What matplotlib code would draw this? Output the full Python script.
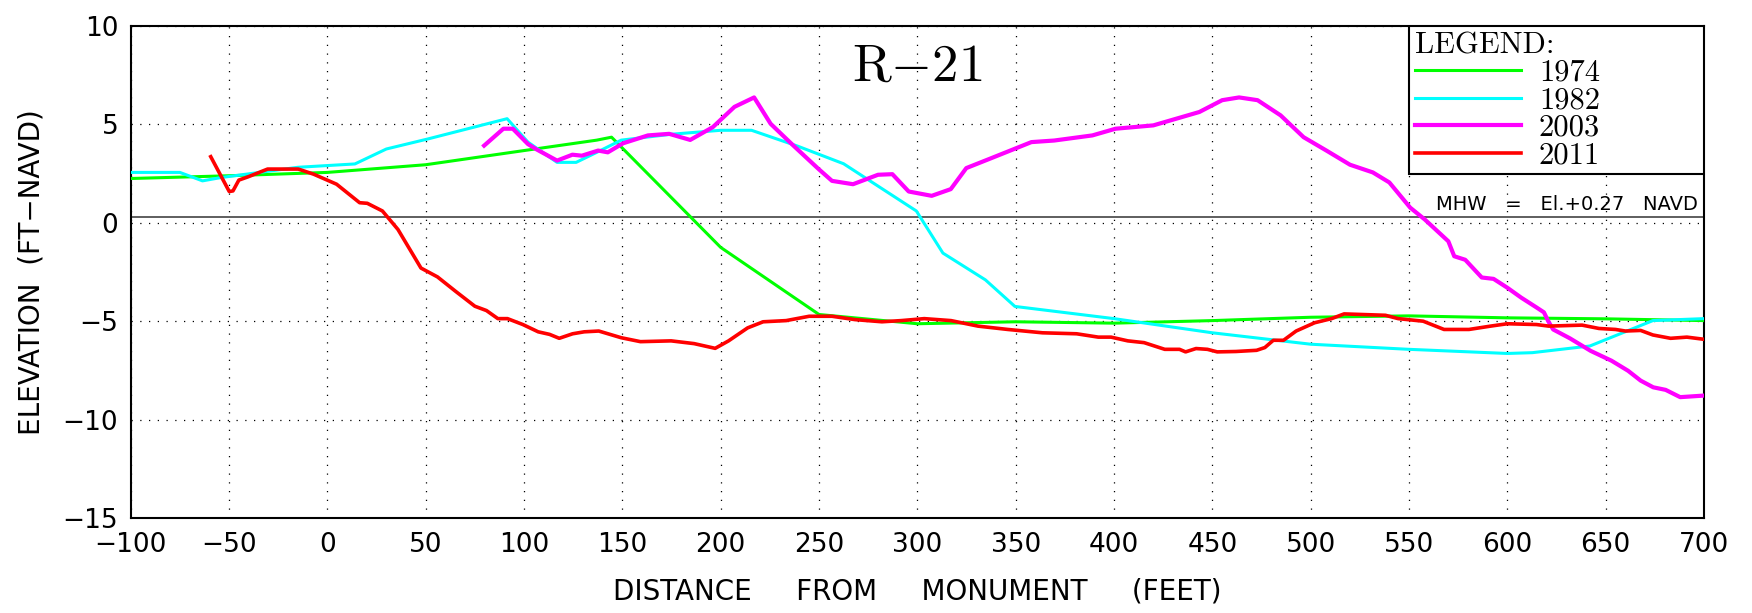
import matplotlib
matplotlib.use("Agg")
import matplotlib.pyplot as plt
from matplotlib.patches import Rectangle

# Beach profile R-21, distance from monument (ft) vs elevation (ft-NAVD)
x1974 = [-100, -50, 0, 50, 100, 137, 144.5, 200, 250, 300, 350, 400, 450, 500, 550, 600, 650, 700]
y1974 = [2.25, 2.39, 2.56, 2.95, 3.67, 4.2, 4.35, -1.25, -4.66, -5.13, -5.03, -5.1, -4.97, -4.8,
         -4.73, -4.83, -4.88, -4.97]

x1982 = [-100, -75, -63.5, -54, -15, 14, 30, 51.5, 91.4, 102, 116.8, 126.5, 137, 149.4, 175, 200,
         215.7, 239, 262.5, 299.5, 313, 334.6, 349.6, 400, 450, 500, 550, 600, 612.7, 642, 674, 700]
y1982 = [2.56, 2.56, 2.13, 2.3, 2.82, 2.99, 3.75, 4.27, 5.29, 4.1, 3.07, 3.07, 3.58, 4.2, 4.5, 4.7,
         4.7, 3.9, 3.0, 0.6, -1.54, -2.9, -4.25, -4.87, -5.59, -6.17, -6.43, -6.64, -6.6, -6.26,
         -4.97, -4.87]

x2003 = [79.7, 89.5, 94.3, 102, 106, 116.8, 124.6, 129.4, 137.7, 142.6, 150.4, 163, 173.8, 184.5,
         196, 207, 217, 225.4, 237, 249.8, 256.6, 267.3, 280, 287.3, 295.6, 307.3, 317, 324.9,
         336.5, 358, 369.6, 389, 400.8, 420, 431.7, 443.4, 455, 463.6, 473, 484.7, 496.4, 508,
         520, 531.6, 540, 550.6, 558, 570, 573, 578.6, 587, 593, 600, 607, 614.8, 618.6, 620.8,
         623.3, 631.8, 642.4, 653, 661.4, 667.8, 674.2, 680.5, 687.9, 700]
y2003 = [3.92, 4.78, 4.78, 4.0, 3.75, 3.16, 3.46, 3.41, 3.67, 3.58, 4.04, 4.44, 4.52, 4.21,
         4.86, 5.89, 6.37, 5.03, 3.92, 2.73, 2.13, 1.96, 2.44, 2.47, 1.59, 1.37, 1.71, 2.78,
         3.24, 4.1, 4.18, 4.44, 4.78, 4.95, 5.29, 5.63, 6.23, 6.37, 6.23, 5.46, 4.35, 3.67,
         2.95, 2.56, 2.05, 0.77, 0.17, -0.94, -1.7, -1.88, -2.78, -2.85, -3.3, -3.8, -4.3, -4.55,
         -5.0, -5.42, -5.87, -6.51, -7.01, -7.52, -8.02, -8.36, -8.49, -8.86, -8.78]

x2011 = [-59.3, -49.9, -48, -45, -40.2, -30.4, -14.8, -7, 4.7, 16.4, 20.3, 28, 35.9, 47.6, 56,
         65.3, 75, 80.9, 86.7, 91.6, 99.4, 107.2, 113, 117.9, 124.7, 130.6, 138, 149.4, 159.2,
         174.8, 186.5, 197.2, 204, 213.7, 221.6, 233.3, 245, 256.6, 268.3, 282, 291.8, 303.5,
         317.1, 330.8, 346, 363.6, 381, 392, 398.5, 407, 415.3, 425.8, 433.3, 436.4, 441.7,
         447.5, 452.5, 462, 472.5, 476.7, 481, 486.2, 492.6, 502, 510.6, 517, 538, 544.5,
         557.2, 567.8, 580.5, 591.5, 600, 614.8, 621, 638, 646.6, 655, 660, 667.8, 674, 683,
         691.3, 700]
y2011 = [3.36, 1.59, 1.62, 2.17, 2.34, 2.73, 2.73, 2.47, 1.96, 1.02, 0.99, 0.6, -0.34, -2.3, -2.75,
         -3.49, -4.24, -4.46, -4.87, -4.87, -5.17, -5.54, -5.67, -5.87, -5.64, -5.54, -5.5,
         -5.84, -6.04, -6.0, -6.14, -6.38, -6.0, -5.34, -5.03, -4.97, -4.75, -4.75, -4.92,
         -5.03, -4.97, -4.87, -4.97, -5.25, -5.42, -5.59, -5.64, -5.81, -5.81, -6.0, -6.09,
         -6.43, -6.43, -6.56, -6.39, -6.43, -6.56, -6.54, -6.48, -6.34, -5.97, -5.97, -5.5,
         -5.08, -4.87, -4.63, -4.7, -4.87, -5.0, -5.42, -5.42, -5.25, -5.13, -5.17, -5.25,
         -5.2, -5.37, -5.42, -5.5, -5.47, -5.7, -5.87, -5.81, -5.92]

years = ["1974", "1982", "2003", "2011"]
colors = ["#00ff00", "#00ffff", "#ff00ff", "#ff0000"]
widths = [2.2, 2.2, 3.0, 2.6]
profiles = [(x1974, y1974), (x1982, y1982), (x2003, y2003), (x2011, y2011)]

mhw = 0.27
xticks = list(range(-100, 701, 50))
yticks = list(range(-15, 11, 5))

plt.rcParams["mathtext.fontset"] = "cm"

fig = plt.figure(figsize=(17.52, 6.13), dpi=100)
ax = fig.add_axes([0.0746, 0.155, 0.898, 0.8026])

lines = []
for (xs, ys), yr, c, w in zip(profiles, years, colors, widths):
    ln, = ax.plot(xs, ys, color=c, lw=w, label=yr, zorder=3)
    lines.append(ln)

# mean high water line
ax.axhline(mhw, color="#333333", lw=1.1, zorder=2)
ax.text(0.996, mhw + 0.2, "MHW   =   El.+0.27   NAVD", transform=ax.get_yaxis_transform(),
        ha="right", va="bottom", fontsize=14)

ax.set_xlim(-100, 700)
ax.set_ylim(-15, 10)
ax.set_xticks(xticks)
ax.set_yticks(yticks)
ax.tick_params(length=0, labelsize=19)
ax.tick_params(axis="x", pad=10)
ax.tick_params(axis="y", pad=9)
ax.grid(True, color="black", ls=(0, (1, 6)), lw=0.9)
for s in ax.spines.values():
    s.set_linewidth(1.5)

ax.set_xlabel("DISTANCE     FROM     MONUMENT     (FEET)", fontsize=20)
ax.xaxis.set_label_coords(0.5, -0.12)
ax.set_ylabel("ELEVATION  (FT\u2212NAVD)", fontsize=20)
ax.yaxis.set_label_coords(-0.054, 0.5)

ax.text(0.5, 0.92, r"$\mathrm{R{-}21}$", transform=ax.transAxes, ha="center", va="center",
        fontsize=38)

# legend box
ax.add_patch(Rectangle((0.8125, 0.699), 0.1875, 0.301, transform=ax.transAxes, fill=True,
                       fc="white", ec="black", lw=1.5, zorder=4))
leg = ax.legend(handles=lines, title="LEGEND:", loc="upper left", bbox_to_anchor=(0.8125, 1.0),
                frameon=False, prop={"family": "cmr10", "size": 22},
                title_fontproperties={"family": "cmr10", "size": 22},
                alignment="left", handlelength=3.45, handletextpad=0.6,
                labelspacing=0.0, borderpad=0.2, borderaxespad=0)
leg.set_zorder(5)

fig.savefig("out.png", dpi=100)
